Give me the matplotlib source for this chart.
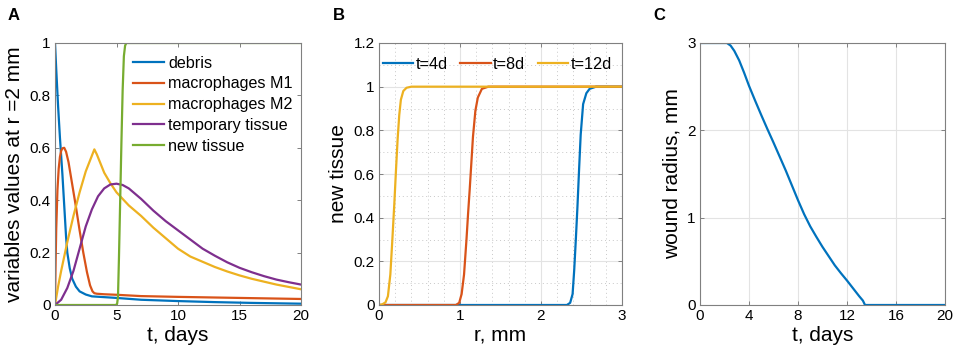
import matplotlib
matplotlib.use("Agg")
import matplotlib.pyplot as plt
from matplotlib.ticker import FuncFormatter, MultipleLocator

plt.rcParams["font.family"] = ["Liberation Sans", "DejaVu Sans"]

# Panel A: variables at r = 2 mm
debris_t = [0, 0.1, 0.25, 0.4, 0.5, 0.6, 0.7, 0.8, 0.9, 1.0, 1.2, 1.4, 1.7, 2.0, 2.5, 3.0, 4.0, 5.0, 7.0, 10.0, 13.0, 16.0, 20.0]
debris_v = [1.0, 0.9, 0.76, 0.64, 0.57, 0.5, 0.42, 0.34, 0.26, 0.2, 0.14, 0.1, 0.07, 0.052, 0.04, 0.033, 0.03, 0.027, 0.02, 0.015, 0.011, 0.008, 0.005]
m1_t = [0, 0.05, 0.1, 0.2, 0.3, 0.4, 0.5, 0.6, 0.75, 0.9, 1.1, 1.4, 1.7, 2.0, 2.3, 2.6, 2.85, 3.05, 3.2, 3.4, 4, 5, 7, 10, 15, 20]
m1_v = [0, 0.16, 0.29, 0.44, 0.52, 0.565, 0.588, 0.598, 0.6, 0.585, 0.545, 0.46, 0.375, 0.285, 0.2, 0.125, 0.075, 0.052, 0.045, 0.043, 0.041, 0.039, 0.034, 0.031, 0.027, 0.023]
m2_t = [0, 0.25, 0.5, 1.0, 1.5, 2.0, 2.5, 3.0, 3.2, 3.4, 3.7, 4.0, 4.5, 5.0, 6.0, 7.0, 8.0, 9.0, 10.0, 11.0, 12.0, 13.0, 14.0, 15.0, 16.0, 17.0, 18.0, 19.0, 20.0]
m2_v = [0, 0.07, 0.13, 0.24, 0.34, 0.43, 0.51, 0.57, 0.594, 0.575, 0.54, 0.505, 0.465, 0.43, 0.38, 0.34, 0.295, 0.255, 0.215, 0.185, 0.165, 0.145, 0.128, 0.113, 0.1, 0.089, 0.078, 0.069, 0.06]
temp_t = [0, 0.5, 1.0, 1.5, 2.0, 2.5, 3.0, 3.5, 4.0, 4.5, 5.0, 5.5, 6.0, 7.0, 8.0, 9.0, 10, 11, 12, 13, 14, 15, 16, 17, 18, 19, 20]
temp_v = [0, 0.02, 0.065, 0.13, 0.215, 0.3, 0.365, 0.415, 0.445, 0.46, 0.463, 0.458, 0.445, 0.405, 0.36, 0.32, 0.285, 0.25, 0.215, 0.188, 0.163, 0.142, 0.125, 0.11, 0.097, 0.087, 0.078]
newt_t = [0, 4.95, 5.05, 5.12, 5.2, 5.3, 5.4, 5.5, 5.6, 5.7, 5.8, 20]
newt_v = [0, 0, 0.005, 0.03, 0.18, 0.4, 0.62, 0.82, 0.95, 0.99, 1, 1]

# Panel B: new tissue profiles
r4_r = [0, 2.32, 2.36, 2.39, 2.41, 2.43, 2.45, 2.47, 2.49, 2.52, 2.56, 2.6, 2.68, 3.0]
r4_v = [0, 0, 0.01, 0.05, 0.16, 0.3, 0.45, 0.62, 0.78, 0.92, 0.97, 0.99, 1, 1]
r8_r = [0, 0.95, 0.99, 1.02, 1.05, 1.08, 1.1, 1.12, 1.14, 1.16, 1.19, 1.22, 1.27, 1.35, 3.0]
r8_v = [0, 0, 0.01, 0.05, 0.14, 0.3, 0.42, 0.53, 0.65, 0.77, 0.89, 0.95, 0.99, 1, 1]
r12_r = [0, 0.04, 0.08, 0.11, 0.14, 0.165, 0.19, 0.21, 0.23, 0.25, 0.27, 0.3, 0.34, 0.4, 3.0]
r12_v = [0, 0.003, 0.012, 0.04, 0.14, 0.3, 0.47, 0.62, 0.76, 0.87, 0.94, 0.98, 0.995, 1, 1]

# Panel C: wound radius
wound_t = [0, 2.2, 2.5, 2.8, 3.2, 3.6, 4.0, 4.5, 5.0, 5.5, 6.0, 6.5, 7.0, 7.5, 8.0, 8.5, 9.0, 9.5, 10.0, 10.5, 11.0, 11.5, 12.0, 12.5, 13.0, 13.3, 13.47, 20]
wound_r = [3, 3, 2.97, 2.91, 2.8, 2.66, 2.51, 2.34, 2.175, 2.015, 1.86, 1.7, 1.54, 1.37, 1.2, 1.04, 0.9, 0.78, 0.665, 0.56, 0.455, 0.365, 0.28, 0.19, 0.1, 0.05, 0, 0]

BLUE, RED, YELLOW, PURPLE, GREEN = "#0072BD", "#D95319", "#EDB120", "#7E2F8E", "#77AC30"
LW = 1.6
fmt = FuncFormatter(lambda v, _: f"{v:g}")


def style_axes(ax):
    for s in ax.spines.values():
        s.set_color("#808080")
        s.set_linewidth(0.8)
    ax.tick_params(direction="in", length=3, width=0.7, color="#808080",
                   top=True, right=True, labelsize=11, pad=3)
    ax.tick_params(which="minor", length=0, top=True, right=True)
    ax.xaxis.set_major_formatter(fmt)
    ax.yaxis.set_major_formatter(fmt)


fig = plt.figure(figsize=(9.57, 3.57), dpi=100)
axA = fig.add_axes([55 / 957, 52 / 357, 246 / 957, 262 / 357])
axB = fig.add_axes([379 / 957, 52 / 357, 243 / 957, 262 / 357])
axC = fig.add_axes([700 / 957, 52 / 357, 245 / 957, 262 / 357])

# A
axA.plot(debris_t, debris_v, color=BLUE, lw=LW, label="debris")
axA.plot(m1_t, m1_v, color=RED, lw=LW, label="macrophages M1")
axA.plot(m2_t, m2_v, color=YELLOW, lw=LW, label="macrophages M2")
axA.plot(temp_t, temp_v, color=PURPLE, lw=LW, label="temporary tissue")
axA.plot(newt_t, newt_v, color=GREEN, lw=LW, label="new tissue")
axA.set_xlim(0, 20)
axA.set_ylim(0, 1)
axA.set_xticks([0, 5, 10, 15, 20])
axA.set_yticks([0, 0.2, 0.4, 0.6, 0.8, 1])
style_axes(axA)
axA.set_xlabel("t, days", fontsize=15, labelpad=2)
axA.set_ylabel("variables values at r =2 mm", fontsize=15, labelpad=4)
axA.legend(loc="upper left", bbox_to_anchor=(0.318, 0.952), frameon=False,
           fontsize=11.6, handlelength=1.9, handletextpad=0.28,
           labelspacing=0.36, borderpad=0, borderaxespad=0)

# B
axB.plot(r4_r, r4_v, color=BLUE, lw=LW, label="t=4d")
axB.plot(r8_r, r8_v, color=RED, lw=LW, label="t=8d")
axB.plot(r12_r, r12_v, color=YELLOW, lw=LW, label="t=12d")
axB.set_xlim(0, 3)
axB.set_ylim(0, 1.2)
axB.set_xticks([0, 1, 2, 3])
axB.set_yticks([0, 0.2, 0.4, 0.6, 0.8, 1, 1.2])
axB.xaxis.set_minor_locator(MultipleLocator(0.2))
axB.yaxis.set_minor_locator(MultipleLocator(0.1))
axB.grid(True, which="major", color="#e3e3e3", lw=0.8)
axB.grid(True, which="minor", color="#c8c8c8", lw=0.7, ls=(0, (1, 3)))
axB.set_axisbelow(True)
style_axes(axB)
axB.set_xlabel("r, mm", fontsize=15, labelpad=2)
axB.set_ylabel("new tissue", fontsize=15, labelpad=4)
axB.legend(loc="upper left", bbox_to_anchor=(0.017, 0.948), frameon=False,
           fontsize=11.8, ncol=3, handlelength=1.85, handletextpad=0.15,
           columnspacing=0.75, borderpad=0, borderaxespad=0)

# C
axC.plot(wound_t, wound_r, color=BLUE, lw=LW)
axC.set_xlim(0, 20)
axC.set_ylim(0, 3)
axC.set_xticks([0, 4, 8, 12, 16, 20])
axC.set_yticks([0, 1, 2, 3])
axC.grid(True, color="#e3e3e3", lw=0.8)
axC.set_axisbelow(True)
style_axes(axC)
axC.set_xlabel("t, days", fontsize=15, labelpad=2)
axC.set_ylabel("wound radius, mm", fontsize=15, labelpad=4)

for letter, x in (("A", 8), ("B", 333), ("C", 653)):
    fig.text(x / 957, 1 - 15 / 357, letter, fontsize=12, fontweight="bold",
             ha="left", va="center")

fig.savefig("out.png", dpi=100)
